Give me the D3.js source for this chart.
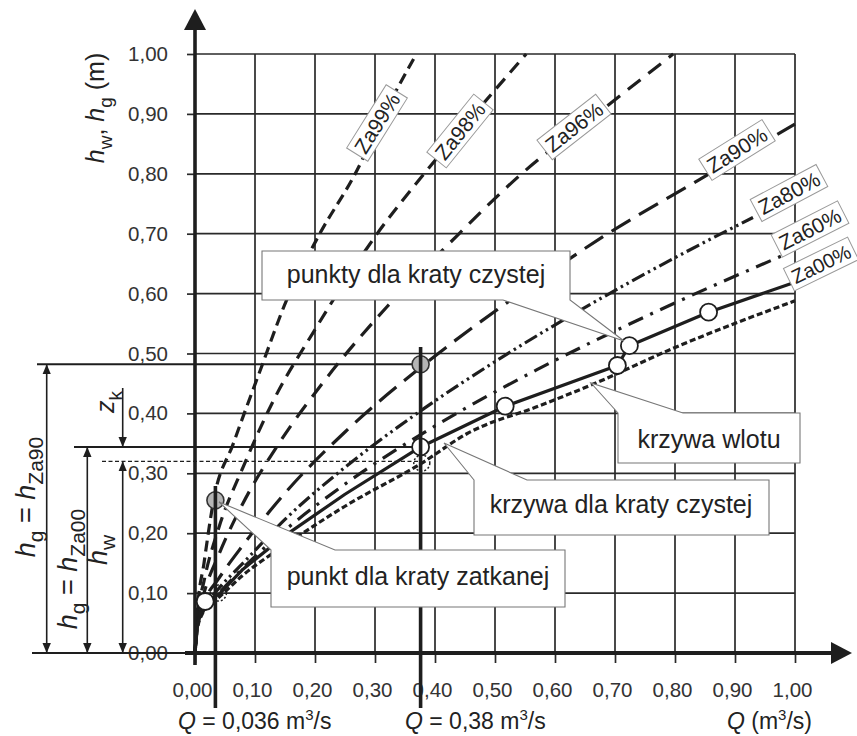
<!DOCTYPE html>
<html>
<head>
<meta charset="utf-8">
<script src="https://cdn.jsdelivr.net/npm/d3@7"></script>
<style>
  body { margin: 0; background: #fff; }
  text { font-family: "Liberation Sans", Arial, sans-serif; white-space: pre; }
</style>
</head>
<body>
<div id="chart-area"></div>
<script>
// Tick values
var qTicks = [0, 0.1, 0.2, 0.3, 0.4, 0.5, 0.6, 0.7, 0.8, 0.9, 1.0];
var hTicks = [0, 0.1, 0.2, 0.3, 0.4, 0.5, 0.6, 0.7, 0.8, 0.9, 1.0];

// Curves: Q (m3/s) against h (m)
var qZa99 = [0, 0.004, 0.015, 0.031, 0.064, 0.108, 0.153, 0.208, 0.267, 0.315, 0.369];
var hZa99 = [0, 0.07, 0.15, 0.255, 0.35, 0.47, 0.59, 0.70, 0.80, 0.90, 1.00];
var qZa98 = [0, 0.004, 0.015, 0.04, 0.08, 0.13, 0.20, 0.30, 0.39, 0.47, 0.552];
var hZa98 = [0, 0.06, 0.12, 0.21, 0.31, 0.42, 0.54, 0.695, 0.81, 0.905, 1.00];
var qZa96 = [0, 0.004, 0.015, 0.04, 0.08, 0.14, 0.22, 0.32, 0.42, 0.55, 0.67, 0.797];
var hZa96 = [0, 0.055, 0.10, 0.165, 0.25, 0.35, 0.46, 0.578, 0.68, 0.805, 0.90, 1.00];
var qZa90 = [0, 0.004, 0.015, 0.04, 0.08, 0.15, 0.25, 0.38, 0.52, 0.68, 0.84, 1.0];
var hZa90 = [0, 0.05, 0.085, 0.125, 0.18, 0.267, 0.369, 0.48, 0.585, 0.695, 0.79, 0.883];
var qZa80 = [0, 0.004, 0.015, 0.04, 0.08, 0.15, 0.25, 0.37, 0.52, 0.68, 0.84, 0.93];
var hZa80 = [0, 0.048, 0.075, 0.108, 0.15, 0.223, 0.31, 0.40, 0.499, 0.594, 0.681, 0.727];
var qZa60 = [0, 0.004, 0.015, 0.04, 0.08, 0.15, 0.25, 0.40, 0.57, 0.76, 0.978];
var hZa60 = [0, 0.046, 0.072, 0.10, 0.142, 0.205, 0.282, 0.379, 0.473, 0.566, 0.663];
var qZa00 = [0, 0.004, 0.01, 0.017, 0.04, 0.08, 0.15, 0.25, 0.376, 0.517, 0.704, 0.724, 0.856, 1.0];
var hZa00 = [0, 0.045, 0.07, 0.086, 0.098, 0.14, 0.196, 0.265, 0.344, 0.412, 0.48, 0.513, 0.569, 0.619];
var qInlet = [0, 0.004, 0.012, 0.025, 0.039, 0.08, 0.15, 0.25, 0.378, 0.453, 0.575, 0.664, 0.80, 1.0];
var hInlet = [0, 0.04, 0.065, 0.08, 0.092, 0.13, 0.18, 0.245, 0.317, 0.366, 0.413, 0.449, 0.51, 0.588];

// Points
var cleanQ = [0.017, 0.376, 0.517, 0.704, 0.724, 0.856];
var cleanH = [0.086, 0.344, 0.412, 0.48, 0.513, 0.569];
var inletPtQ = [0.039, 0.378];
var inletPtH = [0.10, 0.317];
var cloggedQ = [0.034, 0.376];
var cloggedH = [0.255, 0.482];

// Marked flows and levels
var flowQ = [0.034, 0.376];
var levelZa90 = 0.482;
var levelZa00 = 0.344;
var levelW = 0.32;

var ink = "#1e1e1e";

var svg = d3.select("#chart-area")
  .append("svg")
  .attr("width", 857)
  .attr("height", 736);

var defs = svg.append("defs");
defs.append("marker")
  .attr("id", "arr")
  .attr("viewBox", "0 0 10 10")
  .attr("refX", 10)
  .attr("refY", 5)
  .attr("markerWidth", 10)
  .attr("markerHeight", 10)
  .attr("markerUnits", "userSpaceOnUse")
  .attr("orient", "auto-start-reverse")
  .append("path")
  .attr("d", "M0,0.8 L10,5 L0,9.2 Z")
  .attr("fill", ink);

var x = d3.scaleLinear().domain([0, 1]).range([195, 795]);
var y = d3.scaleLinear().domain([0, 1]).range([653, 54]);

// Grid
svg.append("g").selectAll("line")
  .data(qTicks.slice(1))
  .enter()
  .append("line")
  .attr("x1", x).attr("x2", x)
  .attr("y1", y(1)).attr("y2", y(0))
  .attr("stroke", "#2a2a2a")
  .attr("stroke-width", 1.7);

svg.append("g").selectAll("line")
  .data(hTicks.slice(1))
  .enter()
  .append("line")
  .attr("x1", x(0)).attr("x2", x(1))
  .attr("y1", y).attr("y2", y)
  .attr("stroke", "#2a2a2a")
  .attr("stroke-width", 1.7);

function comma(d) {
  return d3.format(".2f")(d).replace(".", ",");
}

// Axes with ticks
var xAxis = svg.append("g")
  .attr("transform", "translate(0," + y(0) + ")")
  .call(d3.axisBottom(x).tickValues(qTicks).tickSize(10).tickPadding(19).tickFormat(comma));
var yAxis = svg.append("g")
  .attr("transform", "translate(" + x(0) + ",0)")
  .call(d3.axisLeft(y).tickValues(hTicks).tickSize(8).tickPadding(19).tickFormat(comma));

[xAxis, yAxis].forEach(function(a) {
  a.select(".domain").remove();
  a.selectAll(".tick line").attr("stroke", "#2a2a2a").attr("stroke-width", 1.7);
  a.selectAll(".tick text")
    .attr("fill", "#333")
    .attr("font-size", "20.5px")
    .attr("font-family", "'Liberation Sans', Arial, sans-serif");
});
xAxis.selectAll(".tick text").attr("dx", -3);

// Dimension lines on the left
var dim = svg.append("g").attr("stroke", ink);
dim.append("line")
  .attr("x1", 37).attr("x2", x(flowQ[1]))
  .attr("y1", y(levelZa90)).attr("y2", y(levelZa90))
  .attr("stroke-width", 2);
dim.append("line")
  .attr("x1", 74).attr("x2", x(flowQ[1]))
  .attr("y1", y(levelZa00)).attr("y2", y(levelZa00))
  .attr("stroke-width", 2);
dim.append("line")
  .attr("x1", 102).attr("x2", x(flowQ[1]))
  .attr("y1", y(levelW)).attr("y2", y(levelW))
  .attr("stroke-width", 1.3)
  .attr("stroke-dasharray", "4,2.5");
dim.append("line")
  .attr("x1", 32).attr("x2", x(0))
  .attr("y1", y(0)).attr("y2", y(0))
  .attr("stroke-width", 2);

function dimArrow(px, h1, h2, both) {
  var l = dim.append("line")
    .attr("x1", px).attr("x2", px)
    .attr("y1", typeof h1 === "number" ? y(h1) : h1.px)
    .attr("y2", y(h2))
    .attr("stroke-width", 1.6)
    .attr("marker-end", "url(#arr)");
  if (both) l.attr("marker-start", "url(#arr)");
}
dimArrow(46.7, levelZa90, 0, true);
dimArrow(87.3, levelZa00, 0, true);
dimArrow(122.7, levelW, 0, true);
dimArrow(122.7, {px: 388}, levelZa00, false);

// Curves
var curves = [
  {q: qZa99, h: hZa99, dash: "11,6", curve: d3.curveMonotoneX},
  {q: qZa98, h: hZa98, dash: "13,8", curve: d3.curveMonotoneX},
  {q: qZa96, h: hZa96, dash: "16,10", curve: d3.curveMonotoneX},
  {q: qZa90, h: hZa90, dash: "22,10", curve: d3.curveMonotoneX},
  {q: qZa80, h: hZa80, dash: "14,4,2.5,4,2.5,4", curve: d3.curveMonotoneX},
  {q: qZa60, h: hZa60, dash: "16,8,3,8", curve: d3.curveMonotoneX},
  {q: qInlet, h: hInlet, dash: "6,3", curve: d3.curveMonotoneX},
  {q: qZa00, h: hZa00, dash: null, curve: d3.curveLinear}
];

svg.append("g").selectAll("path")
  .data(curves)
  .enter()
  .append("path")
  .attr("d", function(c) {
    return d3.line()
      .x(function(d) { return x(d[0]); })
      .y(function(d) { return y(d[1]); })
      .curve(c.curve)(d3.zip(c.q, c.h));
  })
  .attr("fill", "none")
  .attr("stroke", ink)
  .attr("stroke-width", 3.2)
  .attr("stroke-linejoin", "round")
  .attr("stroke-dasharray", function(c) { return c.dash; });

// Circles
svg.append("g").selectAll("circle")
  .data(d3.zip(inletPtQ, inletPtH))
  .enter()
  .append("circle")
  .attr("cx", function(d) { return x(d[0]); })
  .attr("cy", function(d) { return y(d[1]); })
  .attr("r", 8)
  .attr("fill", "none")
  .attr("stroke", ink)
  .attr("stroke-width", 1.5)
  .attr("stroke-dasharray", "2,2");

svg.append("g").selectAll("circle")
  .data(d3.zip(cleanQ, cleanH))
  .enter()
  .append("circle")
  .attr("cx", function(d) { return x(d[0]); })
  .attr("cy", function(d) { return y(d[1]); })
  .attr("r", 8.5)
  .attr("fill", "#fff")
  .attr("stroke", ink)
  .attr("stroke-width", 1.8);

svg.append("g").selectAll("circle")
  .data(d3.zip(cloggedQ, cloggedH))
  .enter()
  .append("circle")
  .attr("cx", function(d) { return x(d[0]); })
  .attr("cy", function(d) { return y(d[1]); })
  .attr("r", 8.5)
  .attr("fill", "#b5b5b5")
  .attr("stroke", "#333")
  .attr("stroke-width", 1.6);

// Vertical lines of the two marked flows
var flowTop = [486, 347];
svg.append("g").selectAll("line")
  .data(flowQ)
  .enter()
  .append("line")
  .attr("x1", x).attr("x2", x)
  .attr("y1", function(d, i) { return flowTop[i]; })
  .attr("y2", 708)
  .attr("stroke", ink)
  .attr("stroke-width", 3.6);

// Main axes with arrows
svg.append("line")
  .attr("x1", x(0)).attr("x2", x(0))
  .attr("y1", y(0) + 12).attr("y2", 26)
  .attr("stroke", ink).attr("stroke-width", 3.6);
svg.append("path")
  .attr("d", "M195,9 L206,30 L184,30 Z")
  .attr("fill", ink);
svg.append("line")
  .attr("x1", x(0) - 10).attr("x2", 835)
  .attr("y1", y(0)).attr("y2", y(0))
  .attr("stroke", ink).attr("stroke-width", 3.8);
svg.append("path")
  .attr("d", "M852,653 L831,642 L831,664 Z")
  .attr("fill", ink);

// Text with sub / superscripts
function rich(sel, parts, size, small) {
  var shift = 0;
  parts.forEach(function(p) {
    var target = p.sub ? size * 0.3 : (p.sup ? -size * 0.4 : 0);
    var t = sel.append("tspan")
      .text(p.t)
      .attr("dy", target - shift)
      .attr("font-size", (p.sub || p.sup) ? small + "px" : size + "px");
    if (p.it) t.attr("font-style", "italic");
    shift = target;
  });
}

function rotLabel(px, py, parts, size, small) {
  var t = svg.append("text")
    .attr("transform", "translate(" + px + "," + py + ") rotate(-90)")
    .attr("text-anchor", "middle")
    .attr("fill", "#222");
  rich(t, parts, size, small);
}

rotLabel(104, 108, [{t: "h", it: true}, {t: "w", sub: true}, {t: ", "}, {t: "h", it: true}, {t: "g", sub: true}, {t: " (m)"}], 25, 19);
rotLabel(35, 497, [{t: "h", it: true}, {t: "g", sub: true}, {t: " = "}, {t: "h", it: true}, {t: "Za90", sub: true}], 27, 21);
rotLabel(77, 569, [{t: "h", it: true}, {t: "g", sub: true}, {t: " = "}, {t: "h", it: true}, {t: "Za00", sub: true}], 27, 21);
rotLabel(107, 550, [{t: "h", it: true}, {t: "w", sub: true}], 27, 21);
rotLabel(114, 402, [{t: "z", it: true}, {t: "k", sub: true}], 25, 19);

function flatLabel(px, py, parts) {
  var t = svg.append("text")
    .attr("x", px).attr("y", py)
    .attr("fill", "#222");
  rich(t, parts, 23, 15);
}
flatLabel(178, 729, [{t: "Q", it: true}, {t: " = 0,036 m"}, {t: "3", sup: true}, {t: "/s"}]);
flatLabel(405, 729, [{t: "Q", it: true}, {t: " = 0,38 m"}, {t: "3", sup: true}, {t: "/s"}]);
flatLabel(727, 729, [{t: "Q", it: true}, {t: " (m"}, {t: "3", sup: true}, {t: "/s)"}]);

// Curve name boxes
var zaNames = ["Za99%", "Za98%", "Za96%", "Za90%", "Za80%", "Za60%", "Za00%"];
var zaBoxes = [[377, 123, -58], [460, 131, -51], [574, 127, -38], [737, 150, -32], [789, 193, -28], [810, 229, -27], [821, 264, -26]];

zaNames.forEach(function(name, i) {
  var b = zaBoxes[i];
  var g = svg.append("g")
    .attr("transform", "translate(" + b[0] + "," + b[1] + ") rotate(" + b[2] + ")");
  var rect = g.append("rect").attr("fill", "#fff").attr("stroke", "#999").attr("stroke-width", 1);
  var t = g.append("text")
    .attr("text-anchor", "middle")
    .attr("dy", "0.36em")
    .attr("font-size", i === 6 ? "20px" : "21px")
    .attr("fill", "#222")
    .text(name);
  var w = t.node().getComputedTextLength() + 8;
  rect.attr("x", -w / 2).attr("y", -12.5).attr("width", w).attr("height", 25);
});

// Callouts
var callouts = [
  {text: "punkty dla kraty czystej", pts: [[262, 251], [570, 251], [570, 300], [624, 341], [503, 300], [262, 300]], tx: 416, ty: 283},
  {text: "krzywa wlotu", pts: [[618, 413], [591, 383], [683, 413], [800, 413], [800, 463], [618, 463]], tx: 709, ty: 448},
  {text: "krzywa dla kraty czystej", pts: [[474, 480], [444, 443], [527, 480], [769, 480], [769, 535], [474, 535]], tx: 621, ty: 513},
  {text: "punkt dla kraty zatkanej", pts: [[271, 550], [219, 502], [335, 550], [565, 550], [565, 607], [271, 607]], tx: 418, ty: 585}
];

callouts.forEach(function(c) {
  svg.append("path")
    .attr("d", "M" + c.pts.join("L") + "Z")
    .attr("fill", "#fff")
    .attr("stroke", "#777")
    .attr("stroke-width", 1.1);
  svg.append("text")
    .attr("x", c.tx).attr("y", c.ty)
    .attr("text-anchor", "middle")
    .attr("font-size", "25px")
    .attr("fill", "#222")
    .text(c.text);
});
</script>
</body>
</html>
